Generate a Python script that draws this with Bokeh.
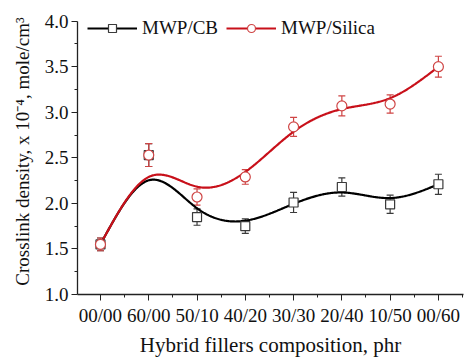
import numpy as np
from bokeh.plotting import figure
from bokeh.models import (ColumnDataSource, Whisker, TeeHead, FixedTicker, Legend, LegendItem,
                          NumeralTickFormatter)
from bokeh.embed import file_html
from bokeh.resources import INLINE

categories = ["00/00", "60/00", "50/10", "40/20", "30/30", "20/40", "10/50", "00/60"]
cb_values = [1.55, 2.53, 1.85, 1.75, 2.01, 2.18, 1.99, 2.21]
cb_errors = [0.07, 0.125, 0.09, 0.08, 0.11, 0.10, 0.10, 0.11]
silica_values = [1.55, 2.53, 2.07, 2.29, 2.84, 3.07, 3.09, 3.50]
silica_errors = [0.07, 0.125, 0.09, 0.08, 0.105, 0.11, 0.10, 0.115]
y_ticks = [1.0, 1.5, 2.0, 2.5, 3.0, 3.5, 4.0]

FONT = "Times New Roman, Liberation Serif, serif"
LEG_FONT = "serif"


def bspline(cx, cy, per_seg=60):
    """Uniform cubic B-spline using the data as control points,
    with reflected phantom end points so it starts/ends on the data."""
    cx = np.asarray(cx, float)
    cy = np.asarray(cy, float)
    qx = np.concatenate([[2 * cx[0] - cx[1]], cx, [2 * cx[-1] - cx[-2]]])
    qy = np.concatenate([[2 * cy[0] - cy[1]], cy, [2 * cy[-1] - cy[-2]]])
    u = np.linspace(0, 1, per_seg)
    b0 = (1 - u) ** 3 / 6
    b1 = (3 * u ** 3 - 6 * u ** 2 + 4) / 6
    b2 = (-3 * u ** 3 + 3 * u ** 2 + 3 * u + 1) / 6
    b3 = u ** 3 / 6
    ox, oy = [], []
    for j in range(len(qx) - 3):
        ox.append(b0 * qx[j] + b1 * qx[j + 1] + b2 * qx[j + 2] + b3 * qx[j + 3])
        oy.append(b0 * qy[j] + b1 * qy[j + 1] + b2 * qy[j + 2] + b3 * qy[j + 3])
    return np.concatenate(ox), np.concatenate(oy)


xs = list(range(len(categories)))

p = figure(width=464, height=359, x_range=(-0.476, 7.52), y_range=(1.0, 4.139),
           output_backend="svg", toolbar_location=None,
           min_border_left=77, min_border_right=1, min_border_top=8, min_border_bottom=57)
p.outline_line_color = None
p.xgrid.visible = False
p.ygrid.visible = False
p.background_fill_color = "white"
p.border_fill_color = "white"

cb_col_line = "#000000"
cb_col_mark = "#3a3a3a"
si_col_line = "#c8101a"
si_col_mark = "#cf4545"

# smooth B-spline connections
bx, by = bspline(xs, cb_values)
sx, sy = bspline(xs, silica_values)
cb_line = p.line(bx, by, line_color=cb_col_line, line_width=2.2)
si_line = p.line(sx, sy, line_color=si_col_line, line_width=2.2)

cb_src = ColumnDataSource(dict(x=xs, y=cb_values,
                               lo=[v - e for v, e in zip(cb_values, cb_errors)],
                               hi=[v + e for v, e in zip(cb_values, cb_errors)]))
si_src = ColumnDataSource(dict(x=xs, y=silica_values,
                               lo=[v - e for v, e in zip(silica_values, silica_errors)],
                               hi=[v + e for v, e in zip(silica_values, silica_errors)]))

for src, col in ((cb_src, cb_col_mark), (si_src, si_col_mark)):
    w = Whisker(source=src, base="x", lower="lo", upper="hi", line_color=col, line_width=1.2,
                upper_head=TeeHead(size=7, line_color=col, line_width=1.2),
                lower_head=TeeHead(size=7, line_color=col, line_width=1.2))
    p.add_layout(w)

cb_mark = p.scatter("x", "y", source=cb_src, marker="square", size=9, fill_color="white",
                    line_color=cb_col_mark, line_width=1.2)
si_mark = p.scatter("x", "y", source=si_src, marker="circle", size=10, fill_color="white",
                    line_color=si_col_mark, line_width=1.2)

# axes
p.xaxis.ticker = FixedTicker(ticks=xs, minor_ticks=[x + 0.5 for x in [-1] + xs])
p.xaxis.major_label_overrides = {i: c for i, c in enumerate(categories)}
p.yaxis.ticker = FixedTicker(ticks=y_ticks, minor_ticks=[v + 0.25 for v in y_ticks[:-1]])
p.yaxis.formatter = NumeralTickFormatter(format="0.0")
p.yaxis.bounds = (y_ticks[0], y_ticks[-1])

p.axis.axis_line_color = "#222222"
p.axis.axis_line_width = 1.3
p.axis.major_tick_line_color = "#222222"
p.axis.minor_tick_line_color = "#222222"
p.axis.major_tick_out = 6
p.axis.major_tick_in = 0
p.axis.minor_tick_out = 3
p.axis.minor_tick_in = 0
p.axis.major_label_text_font = FONT
p.axis.major_label_text_font_size = "19px"
p.axis.major_label_text_color = "#111111"
p.axis.axis_label_text_font = FONT
p.axis.axis_label_text_font_style = "normal"
p.axis.axis_label_text_color = "#111111"
p.xaxis.axis_label_text_font_size = "21px"
p.yaxis.axis_label_text_font_size = "19px"

p.xaxis.major_label_standoff = 4
p.yaxis.major_label_standoff = 3
p.xaxis.axis_label = "Hybrid fillers composition, phr"
p.yaxis.axis_label = "Crosslink density, x 10\u207b\u2074, mole/cm\u00b3"
p.xaxis.axis_label_standoff = 4
p.yaxis.axis_label_standoff = 9

legend = Legend(items=[LegendItem(label="MWP/CB", renderers=[cb_line, cb_mark]),
                       LegendItem(label="MWP/Silica", renderers=[si_line, si_mark])],
                location=(10, 255), orientation="horizontal",
                label_text_font=LEG_FONT, label_text_font_size="19px", label_text_color="#111111",
                glyph_width=50, glyph_height=20, label_height=20, label_standoff=5,
                spacing=8, padding=0, margin=0,
                background_fill_alpha=0, border_line_color=None)
p.add_layout(legend)

open("out.html", "w").write(file_html(p, INLINE))
